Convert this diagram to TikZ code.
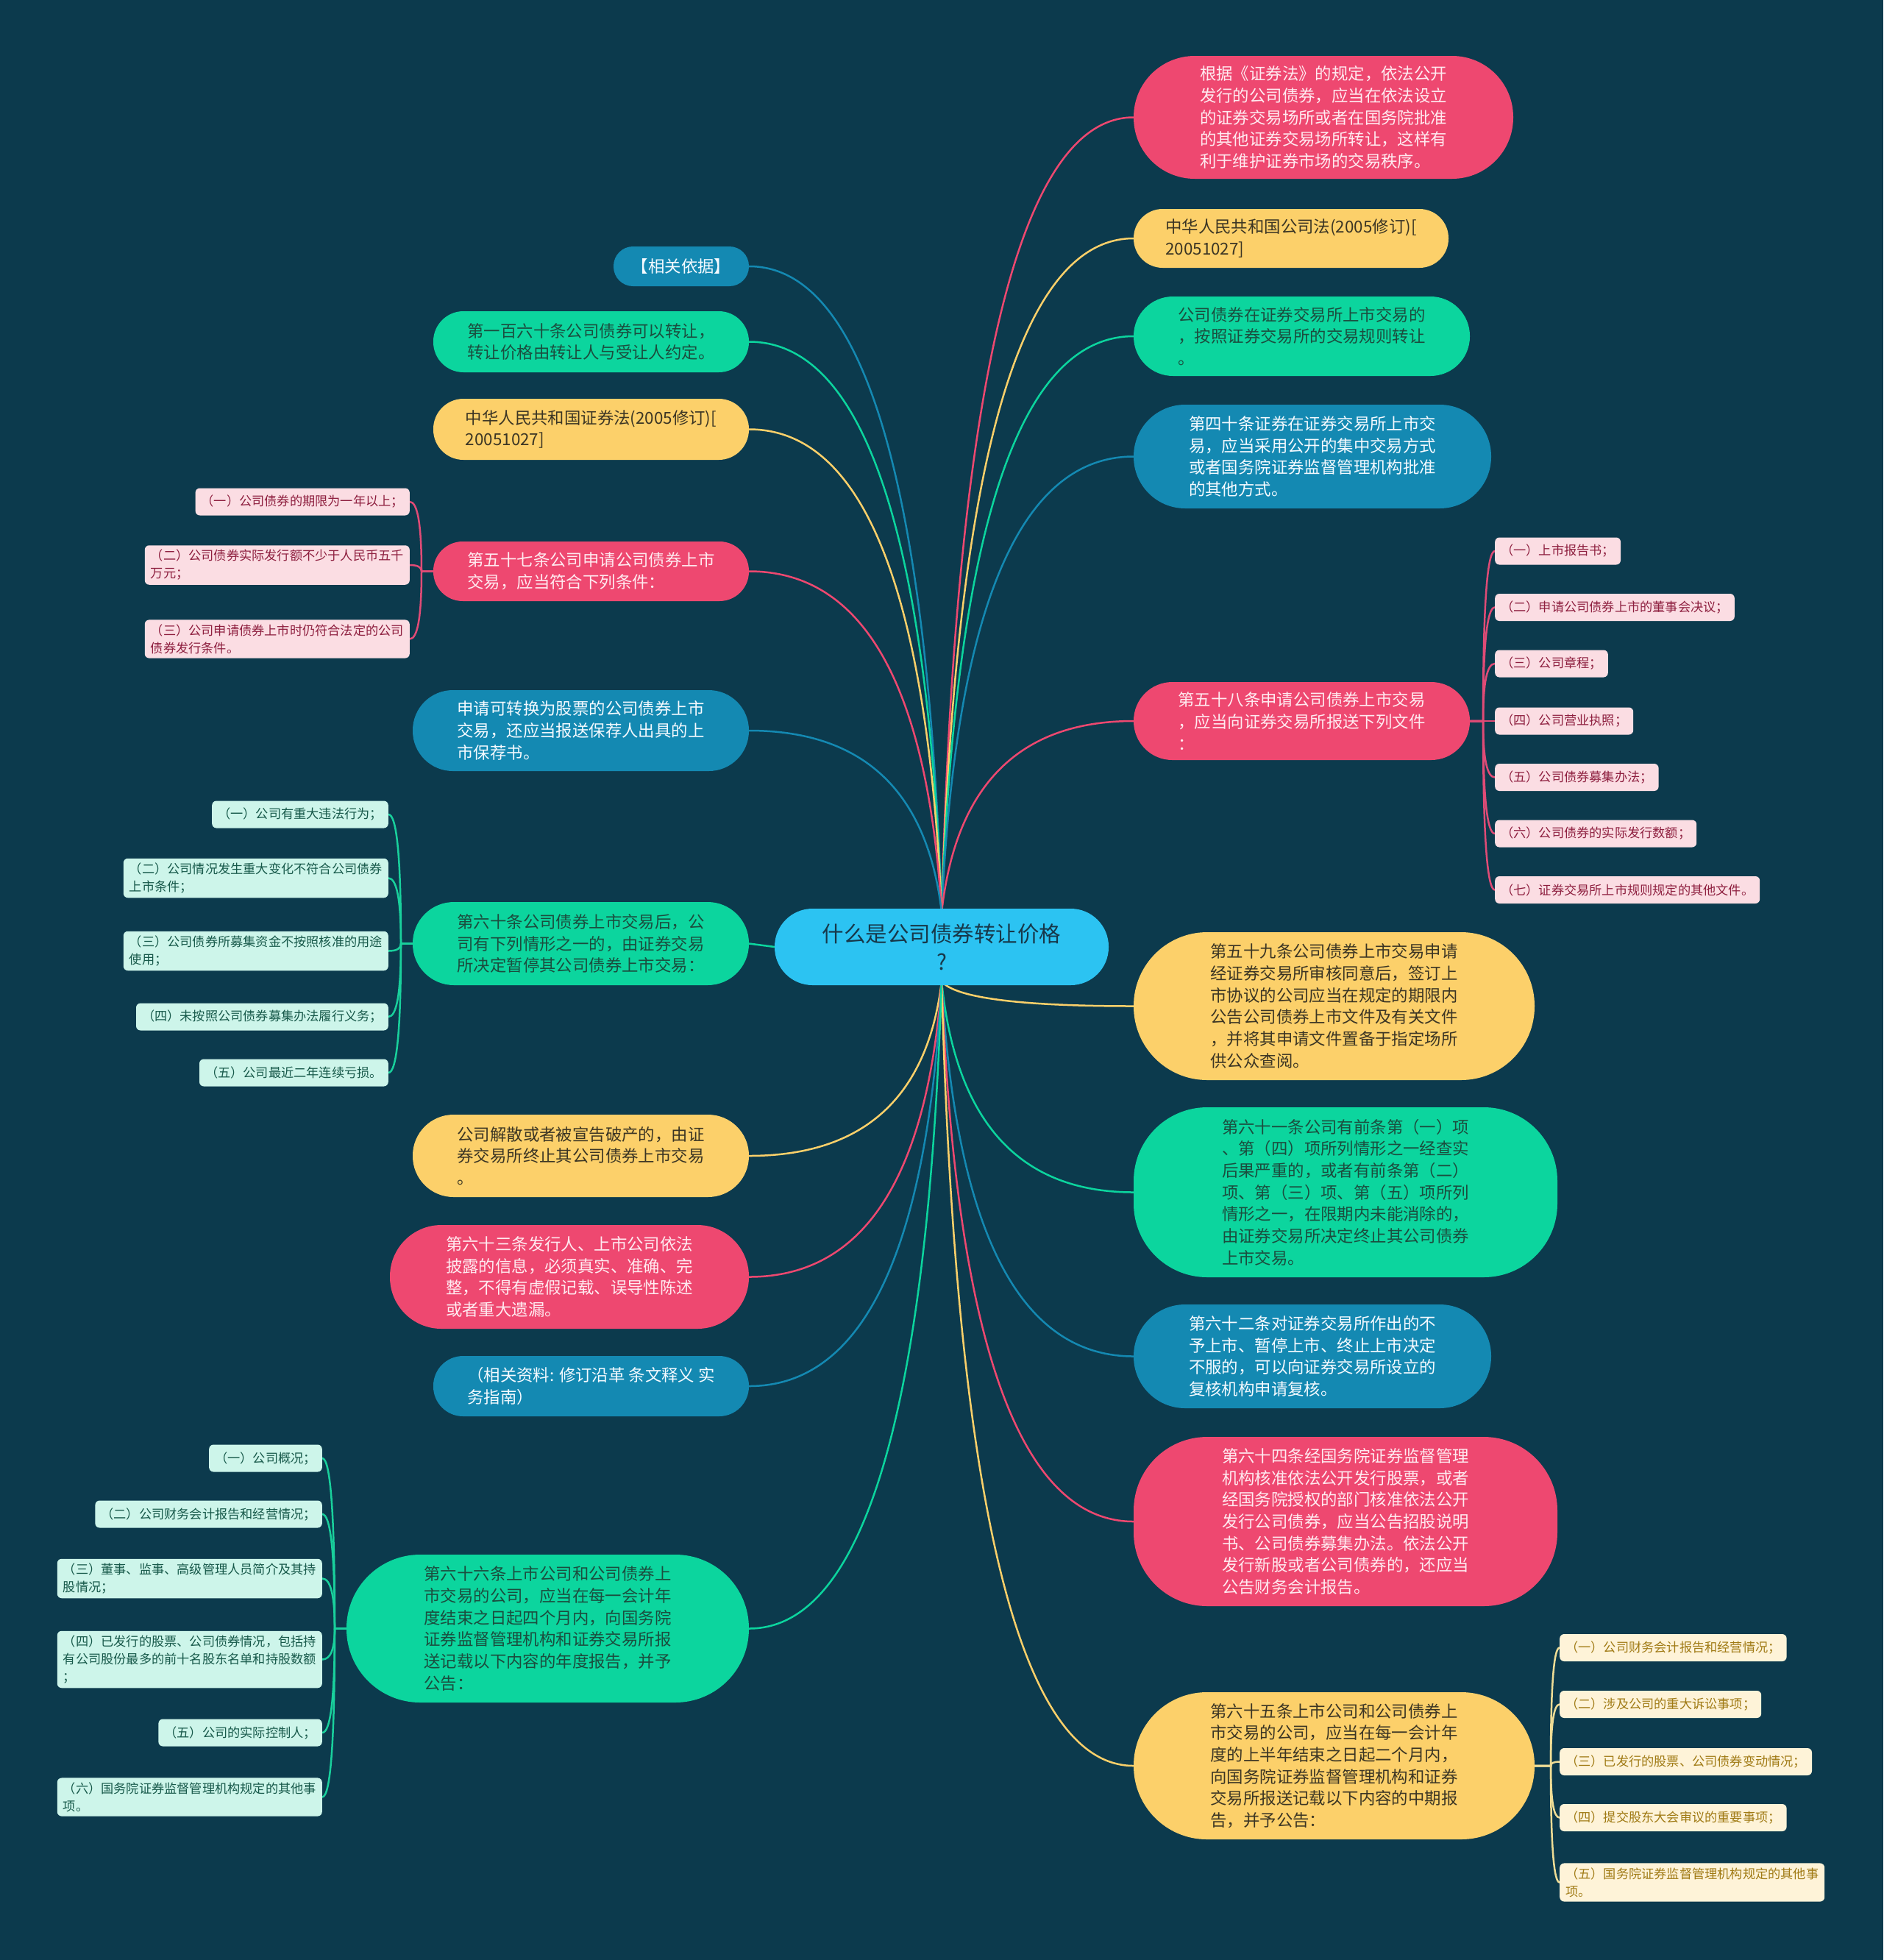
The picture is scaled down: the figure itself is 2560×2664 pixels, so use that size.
\documentclass[tikz,border=0pt]{standalone}
\usepackage{fontspec}
\setmainfont{Noto Sans CJK SC}
\usetikzlibrary{calc}
\definecolor{bgc}{HTML}{0C3A4D}
\definecolor{cpink}{HTML}{EE4870}
\definecolor{cyell}{HTML}{FCD06A}
\definecolor{cgrn}{HTML}{0CD59E}
\definecolor{cblu}{HTML}{1489B2}
\definecolor{ccent}{HTML}{2CC3F2}
\definecolor{tpink}{HTML}{FFEAF0}
\definecolor{tyell}{HTML}{3B3524}
\definecolor{tgrn}{HTML}{1B4D3E}
\definecolor{tblu}{HTML}{F4FAFF}
\definecolor{tcent}{HTML}{17384A}
\definecolor{lpink}{HTML}{FBDDE3}
\definecolor{lpinkt}{HTML}{8E1F3F}
\definecolor{lmint}{HTML}{CDF5EA}
\definecolor{lmintt}{HTML}{17594A}
\definecolor{lcream}{HTML}{FEF3D8}
\definecolor{lcreamt}{HTML}{A07A14}
\definecolor{lpinkl}{HTML}{E04B76}
\definecolor{lgrnl}{HTML}{19D09C}
\definecolor{lyell}{HTML}{EEDC95}
\pgfdeclarelayer{background}
\pgfsetlayers{background,main}
\newcommand\mainfs{\fontsize{22.4pt}{29.7pt}\selectfont}
\newcommand\leaffs{\fontsize{17.2pt}{24pt}\selectfont}
\newcommand\centfs{\fontsize{29.5pt}{38pt}\selectfont}
\begin{document}
\begin{tikzpicture}[x=1pt,y=-1pt,
  mn/.style={rectangle, inner sep=0pt, align=left, font=\mainfs},
  pinkn/.style={mn, fill=cpink, text=tpink},
  yelln/.style={mn, fill=cyell, text=tyell},
  grnn/.style={mn, fill=cgrn, text=tgrn},
  blun/.style={mn, fill=cblu, text=tblu},
  mbox/.style n args={3}{minimum width=#1pt, minimum height=#2pt, rounded corners=#3pt},
  leafbase/.style={rectangle, rounded corners=6pt, inner xsep=8pt, inner ysep=6pt, minimum height=37pt, align=left, font=\leaffs},
  pleaf/.style={leafbase, fill=lpink, text=lpinkt},
  mleaf/.style={leafbase, fill=lmint, text=lmintt},
  cleaf/.style={leafbase, fill=lcream, text=lcreamt},
  conn/.style={line width=2.5pt, line cap=round},
  pinkl/.style={conn, draw=cpink},
  yelll/.style={conn, draw=cyell},
  grnl/.style={conn, draw=cgrn},
  blul/.style={conn, draw=cblu},
  lpl/.style={conn, draw=lpinkl},
  lgl/.style={conn, draw=lgrnl},
  lyl/.style={conn, draw=lyell},
  mm/.style={to path={let \p1=(\tikztostart), \p2=(\tikztotarget), \p3=($(\x1,\y2)!0.11!(\p2)$) in
     .. controls ($(\p1)!0.667!(\p3)$) and ($(\p2)!0.667!(\p3)$) .. (\p2) \tikztonodes}},
  ml/.style={to path={let \p1=(\tikztostart), \p2=(\tikztotarget), \p3=(\x1,\y2) in
     .. controls ($(\p1)!0.667!(\p3)$) and ($(\p2)!0.667!(\p3)$) .. (\p2) \tikztonodes}}
]
\useasboundingbox (0,0) rectangle (2560,2664);

% centre
\node[rectangle, fill=ccent, text=tcent, font=\centfs, align=center, inner sep=0pt,
  mbox={454}{104}{51.5}] (c) at (1280,1287) {什么是公司债券转让价格\\?};
\coordinate (ctop) at (1280,1240);
\coordinate (cbot) at (1280,1334);

% right main nodes
\node[pinkn, mbox={516}{167}{83}] (r1) at (1799,159.5) {根据《证券法》的规定，依法公开\\发行的公司债券，应当在依法设立\\的证券交易场所或者在国务院批准\\的其他证券交易场所转让，这样有\\利于维护证券市场的交易秩序。};
\node[yelln, mbox={428}{80}{39.5}] (r2) at (1755,324) {中华人民共和国公司法(2005修订)[\\20051027]};
\node[grnn, mbox={457}{108}{53.5}] (r3) at (1769.5,457) {公司债券在证券交易所上市交易的\\，按照证券交易所的交易规则转让\\。};
\node[blun, mbox={486}{141}{70}] (r4) at (1784,620.5) {第四十条证券在证券交易所上市交\\易，应当采用公开的集中交易方式\\或者国务院证券监督管理机构批准\\的其他方式。};
\node[pinkn, mbox={457}{106}{52.5}] (r5) at (1769.5,980) {第五十八条申请公司债券上市交易\\，应当向证券交易所报送下列文件\\：};
\node[yelln, mbox={545}{201}{100}] (r6) at (1813.5,1367.5) {第五十九条公司债券上市交易申请\\经证券交易所审核同意后，签订上\\市协议的公司应当在规定的期限内\\公告公司债券上市文件及有关文件\\，并将其申请文件置备于指定场所\\供公众查阅。};
\node[grnn, mbox={576}{231}{100}] (r7) at (1829,1620.5) {第六十一条公司有前条第（一）项\\、第（四）项所列情形之一经查实\\后果严重的，或者有前条第（二）\\项、第（三）项、第（五）项所列\\情形之一，在限期内未能消除的，\\由证券交易所决定终止其公司债券\\上市交易。};
\node[blun, mbox={486}{141}{70}] (r8) at (1784,1843.5) {第六十二条对证券交易所作出的不\\予上市、暂停上市、终止上市决定\\不服的，可以向证券交易所设立的\\复核机构申请复核。};
\node[pinkn, mbox={576}{230}{100}] (r9) at (1829,2068) {第六十四条经国务院证券监督管理\\机构核准依法公开发行股票，或者\\经国务院授权的部门核准依法公开\\发行公司债券，应当公告招股说明\\书、公司债券募集办法。依法公开\\发行新股或者公司债券的，还应当\\公告财务会计报告。};
\node[yelln, mbox={545}{200}{99.5}] (r10) at (1813.5,2400) {第六十五条上市公司和公司债券上\\市交易的公司，应当在每一会计年\\度的上半年结束之日起二个月内，\\向国务院证券监督管理机构和证券\\交易所报送记载以下内容的中期报\\告，并予公告：};

% left main nodes
\node[blun, mbox={184}{54}{26.5}] (l1) at (926,362) {【相关依据】};
\node[grnn, mbox={429}{83}{41}] (l2) at (803.5,464.5) {第一百六十条公司债券可以转让，\\转让价格由转让人与受让人约定。};
\node[yelln, mbox={429}{83}{41}] (l3) at (803.5,583.5) {中华人民共和国证券法(2005修订)[\\20051027]};
\node[pinkn, mbox={429}{81}{40}] (l4) at (803.5,776.5) {第五十七条公司申请公司债券上市\\交易，应当符合下列条件：};
\node[blun, mbox={457}{110}{54.5}] (l5) at (789.5,993) {申请可转换为股票的公司债券上市\\交易，还应当报送保荐人出具的上\\市保荐书。};
\node[grnn, mbox={457}{113}{56}] (l6) at (789.5,1282.5) {第六十条公司债券上市交易后，公\\司有下列情形之一的，由证券交易\\所决定暂停其公司债券上市交易：};
\node[yelln, mbox={457}{112}{55.5}] (l7) at (789.5,1571) {公司解散或者被宣告破产的，由证\\券交易所终止其公司债券上市交易\\。};
\node[pinkn, mbox={488}{141}{70}] (l8) at (774,1735.5) {第六十三条发行人、上市公司依法\\披露的信息，必须真实、准确、完\\整，不得有虚假记载、误导性陈述\\或者重大遗漏。};
\node[blun, mbox={429}{82}{40.5}] (l9) at (803.5,1884) {（相关资料: 修订沿革 条文释义 实\\务指南）};
\node[grnn, mbox={547}{201}{100}] (l10) at (744.5,2213.5) {第六十六条上市公司和公司债券上\\市交易的公司，应当在每一会计年\\度结束之日起四个月内，向国务院\\证券监督管理机构和证券交易所报\\送记载以下内容的年度报告，并予\\公告：};

% leaves of l4
\node[pleaf, anchor=east] (a1) at (557,682) {（一）公司债券的期限为一年以上；};
\node[pleaf, anchor=east] (a2) at (557,768) {（二）公司债券实际发行额不少于人民币五千\\万元；};
\node[pleaf, anchor=east] (a3) at (557,868.5) {（三）公司申请债券上市时仍符合法定的公司\\债券发行条件。};
% leaves of l6
\node[mleaf, anchor=east] (b1) at (528,1107) {（一）公司有重大违法行为；};
\node[mleaf, anchor=east] (b2) at (528,1193.5) {（二）公司情况发生重大变化不符合公司债券\\上市条件；};
\node[mleaf, anchor=east] (b3) at (528,1292.5) {（三）公司债券所募集资金不按照核准的用途\\使用；};
\node[mleaf, anchor=east] (b4) at (528,1382) {（四）未按照公司债券募集办法履行义务；};
\node[mleaf, anchor=east] (b5) at (528,1458) {（五）公司最近二年连续亏损。};
% leaves of l10
\node[mleaf, anchor=east] (c1) at (438,1982) {（一）公司概况；};
\node[mleaf, anchor=east] (c2) at (438,2058) {（二）公司财务会计报告和经营情况；};
\node[mleaf, anchor=east] (c3) at (438,2145.5) {（三）董事、监事、高级管理人员简介及其持\\股情况；};
\node[mleaf, anchor=east] (c4) at (438,2255.5) {（四）已发行的股票、公司债券情况，包括持\\有公司股份最多的前十名股东名单和持股数额\\；};
\node[mleaf, anchor=east] (c5) at (438,2355) {（五）公司的实际控制人；};
\node[mleaf, anchor=east] (c6) at (438,2442.5) {（六）国务院证券监督管理机构规定的其他事\\项。};
% leaves of r5
\node[pleaf, anchor=west] (d1) at (2032,749) {（一）上市报告书；};
\node[pleaf, anchor=west] (d2) at (2032,825.5) {（二）申请公司债券上市的董事会决议；};
\node[pleaf, anchor=west] (d3) at (2032,902) {（三）公司章程；};
\node[pleaf, anchor=west] (d4) at (2032,980) {（四）公司营业执照；};
\node[pleaf, anchor=west] (d5) at (2032,1056.5) {（五）公司债券募集办法；};
\node[pleaf, anchor=west] (d6) at (2032,1133) {（六）公司债券的实际发行数额；};
\node[pleaf, anchor=west] (d7) at (2032,1209.5) {（七）证券交易所上市规则规定的其他文件。};
% leaves of r10
\node[cleaf, anchor=west] (e1) at (2120,2239.5) {（一）公司财务会计报告和经营情况；};
\node[cleaf, anchor=west] (e2) at (2120,2316.5) {（二）涉及公司的重大诉讼事项；};
\node[cleaf, anchor=west] (e3) at (2120,2394.5) {（三）已发行的股票、公司债券变动情况；};
\node[cleaf, anchor=west] (e4) at (2120,2470.5) {（四）提交股东大会审议的重要事项；};
\node[cleaf, anchor=west] (e5) at (2120,2558.5) {（五）国务院证券监督管理机构规定的其他事\\项。};

\coordinate (l4s) at (573,776.5);
\coordinate (l6s) at (545,1282.5);
\coordinate (l10s) at (455,2213.5);
\coordinate (r5s) at (2016,980);
\coordinate (r10s) at (2108,2400);

\begin{pgfonlayer}{background}
\fill[bgc] (0,0) rectangle (2560,2664);
% centre to right
\draw[pinkl] (ctop) to[mm] (r1.west);
\draw[yelll] (ctop) to[mm] (r2.west);
\draw[grnl] (ctop) to[mm] (r3.west);
\draw[blul] (ctop) to[mm] (r4.west);
\draw[pinkl] (ctop) to[mm] (r5.west);
\draw[yelll] (cbot) to[mm] (r6.west);
\draw[grnl] (cbot) to[mm] (r7.west);
\draw[blul] (cbot) to[mm] (r8.west);
\draw[pinkl] (cbot) to[mm] (r9.west);
\draw[yelll] (cbot) to[mm] (r10.west);
% centre to left
\draw[blul] (ctop) to[mm] (l1.east);
\draw[grnl] (ctop) to[mm] (l2.east);
\draw[yelll] (ctop) to[mm] (l3.east);
\draw[pinkl] (ctop) to[mm] (l4.east);
\draw[blul] (ctop) to[mm] (l5.east);
\draw[grnl] (c.west) -- (l6.east);
\draw[yelll] (cbot) to[mm] (l7.east);
\draw[pinkl] (cbot) to[mm] (l8.east);
\draw[blul] (cbot) to[mm] (l9.east);
\draw[grnl] (cbot) to[mm] (l10.east);
% leaves
\foreach \lf in {a1,a2,a3} {\draw[lpl] (l4.west) -- (l4s) to[ml] (\lf.east);}
\foreach \lf in {b1,b2,b3,b4,b5} {\draw[lgl] (l6.west) -- (l6s) to[ml] (\lf.east);}
\foreach \lf in {c1,c2,c3,c4,c5,c6} {\draw[lgl] (l10.west) -- (l10s) to[ml] (\lf.east);}
\foreach \lf in {d1,d2,d3,d4,d5,d6,d7} {\draw[lpl] (r5.east) -- (r5s) to[ml] (\lf.west);}
\foreach \lf in {e1,e2,e3,e4,e5} {\draw[lyl] (r10.east) -- (r10s) to[ml] (\lf.west);}
\end{pgfonlayer}
\end{tikzpicture}
\end{document}
